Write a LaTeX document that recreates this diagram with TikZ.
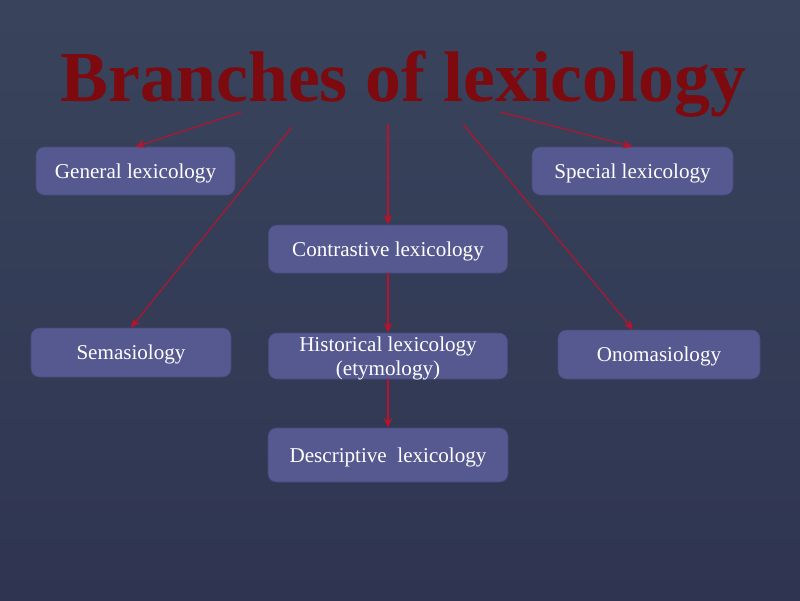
\documentclass[tikz,border=0pt]{standalone}
\usepackage{fontspec}
\usepackage{graphicx}
\usetikzlibrary{arrows.meta}
\setmainfont{Liberation Serif}
\definecolor{bgtop}{HTML}{39445C}
\definecolor{bgbot}{HTML}{2F3551}
\definecolor{boxfill}{HTML}{56598F}
\definecolor{boxline}{HTML}{474A80}
\definecolor{titlered}{HTML}{7C0A0E}
\definecolor{arrowred}{HTML}{B8122C}
\tikzset{
  branch/.style={draw=boxline,fill=boxfill,rounded corners=6pt,text=white,
    font=\fontsize{15}{17}\selectfont,align=center,inner sep=0pt,text depth=0pt},
  link/.style={-{Stealth[length=7pt,width=6pt]},arrowred,line width=0.8pt}
}
\begin{document}
\begin{tikzpicture}[x=0.025cm,y=-0.025cm]
            \shade[top color=bgtop,bottom color=bgbot] (0,0) rectangle (800,600);
            \node[titlered,font=\bfseries\fontsize{51}{54}\selectfont,anchor=base,inner sep=0pt] (title) at (403.5,101)
               {Branches of lexicology};
            \node[branch,minimum width=199*0.025cm,minimum height=48*0.025cm] (general) at (135.5,171) {General lexicology};
            \node[branch,minimum width=201*0.025cm,minimum height=48*0.025cm] (special) at (632.5,171) {Special lexicology};
            \node[branch,minimum width=239*0.025cm,minimum height=48*0.025cm] (contrast) at (388,249) {Contrastive lexicology};
            \node[branch,minimum width=200*0.025cm,minimum height=49*0.025cm] (sema) at (131,352.5) {Semasiology};
            \node[branch,minimum width=239*0.025cm,minimum height=46*0.025cm] (hist) at (388,356) {Historical lexicology\\(etymology)};
            \node[branch,minimum width=202*0.025cm,minimum height=49*0.025cm] (onoma) at (659,354.5) {Onomasiology};
            \node[branch,minimum width=240*0.025cm,minimum height=54*0.025cm] (descr) at (388,455) {Descriptive\ \ lexicology};
            \coordinate (t1) at (242,112);
            \coordinate (t2) at (292,127);
            \coordinate (t3) at (388,124);
            \coordinate (t4) at (463,124);
            \coordinate (t5) at (500,112);
            \draw[link] (t1) -- (general.north);
            \draw[link] (t2) -- (sema.north);
            \draw[link] (t3) -- (contrast.north);
            \draw[link] (t4) -- ([xshift=-26*0.025cm]onoma.north);
            \draw[link] (t5) -- (special.north);
            \draw[link] (contrast.south) -- (hist.north);
            \draw[link] (hist.south) -- (descr.north);
\end{tikzpicture}
\end{document}
